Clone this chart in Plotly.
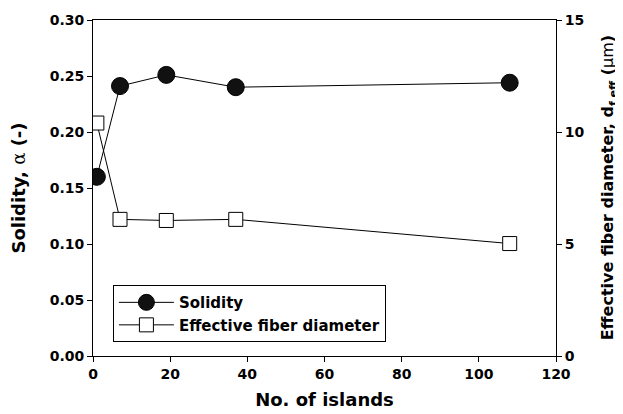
import plotly.graph_objects as go

islands = [1, 7, 19, 37, 108]
solidity = [0.160, 0.241, 0.251, 0.240, 0.244]
eff_diam = [10.4, 6.1, 6.05, 6.1, 5.02]

x_ticks = [0, 20, 40, 60, 80, 100, 120]
y1_ticks = [0.00, 0.05, 0.10, 0.15, 0.20, 0.25, 0.30]
y2_ticks = [0, 5, 10, 15]

FONT = "DejaVu Sans, Liberation Sans, Arial, sans-serif"

fig = go.Figure()
fig.add_trace(go.Scatter(
    x=islands, y=solidity, name="Solidity", mode="lines+markers",
    line=dict(color="black", width=1),
    marker=dict(symbol="circle", size=17, color="#111111", line=dict(color="black", width=1)),
    yaxis="y"))
fig.add_trace(go.Scatter(
    x=islands, y=eff_diam, name="Effective fiber diameter", mode="lines+markers",
    line=dict(color="black", width=1),
    marker=dict(symbol="square", size=14, color="white", line=dict(color="black", width=1)),
    yaxis="y2"))

axis_common = dict(showgrid=False, zeroline=False, showline=True, linecolor="black", linewidth=1,
                   ticks="outside", ticklen=5, tickcolor="black", automargin=False,
                   tickfont=dict(family=FONT, size=14, weight="bold", color="black"))

# page body has an 8px margin, so size/margins compensate for it
fig.update_layout(
    width=615, height=406,
    margin=dict(l=85, r=67, t=12, b=58),
    plot_bgcolor="white", paper_bgcolor="white",
    font=dict(family=FONT, size=14, color="black", weight="bold"),
    showlegend=True,
    legend=dict(x=0.043, y=0.211, xanchor="left", yanchor="top",
                bordercolor="black", borderwidth=1, bgcolor="white",
                font=dict(family=FONT, size=15, color="black", weight="bold"),
                itemwidth=55, tracegroupgap=0),
    xaxis=dict(range=[0, 120], tickvals=x_ticks, ticktext=[str(v) for v in x_ticks],
               mirror=True,
               title=dict(text="No. of islands", font=dict(family=FONT, size=18, weight="bold"), standoff=12),
               **axis_common),
    yaxis=dict(range=[0, 0.30], tickvals=y1_ticks, ticktext=[f"{v:.2f}" for v in y1_ticks],
               title=dict(text="Solidity, <span style='font-family:DejaVu Serif;font-weight:normal'>α</span> (-)",
                          font=dict(family=FONT, size=18, weight="bold"), standoff=21),
               **axis_common),
    yaxis2=dict(range=[0, 15], tickvals=y2_ticks, ticktext=[str(v) for v in y2_ticks],
                overlaying="y", side="right", **axis_common),
    annotations=[dict(
        text="Effective fiber diameter, d<sub>f,eff</sub> (<span style='font-weight:normal'>μm</span>)",
        xref="paper", yref="paper", x=1.113, y=0.5, xanchor="center", yanchor="middle",
        textangle=-90, showarrow=False,
        font=dict(family=FONT, size=16, weight="bold", color="black"))],
)

fig.write_html("out.html")
